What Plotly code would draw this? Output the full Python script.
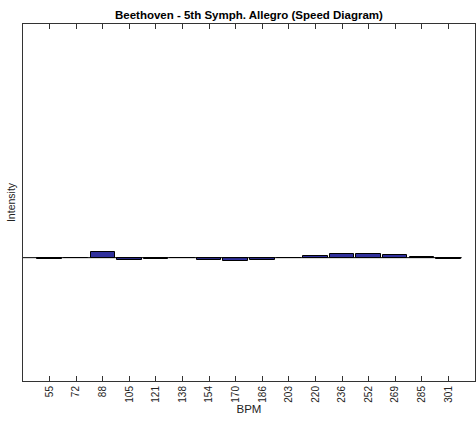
import plotly.graph_objects as go

# Tempo bins (BPM) and the intensity measured in each bin
bpm_labels = ["55", "72", "88", "105", "121", "138", "154", "170",
              "186", "203", "220", "236", "252", "269", "285", "301"]
intensity = [-0.010, 0.0, 0.053, -0.023, -0.013, -0.004, -0.027, -0.033,
             -0.023, 0.0, 0.015, 0.033, 0.035, 0.023, 0.005, -0.010]

positions = list(range(1, len(bpm_labels) + 1))

fig = go.Figure()
fig.add_trace(go.Bar(
    x=positions,
    y=intensity,
    width=0.92,
    marker=dict(color="#30309c", line=dict(color="black", width=1)),
    showlegend=False,
))

# baseline through zero
fig.add_shape(type="line", xref="x", yref="y", x0=0, x1=16.5, y0=0, y1=0,
              line=dict(color="black", width=1))

axis_font = dict(family="Liberation Sans, Arial, sans-serif", size=10, color="#222")

fig.update_layout(
    width=476, height=421,
    margin=dict(l=23, r=1, t=24, b=40),
    paper_bgcolor="white", plot_bgcolor="white",
    title=dict(text="<b>Beethoven - 5th Symph. Allegro (Speed Diagram)</b>",
               x=0.523, xanchor="center", y=0.974, yanchor="top",
               font=dict(family="Liberation Sans, Arial, sans-serif", size=11.5, color="black")),
    font=axis_font,
    bargap=0,
)

fig.update_xaxes(
    range=[0, 17],
    tickvals=positions, ticktext=bpm_labels, tickangle=-90,
    ticks="inside", ticklen=5, tickcolor="#333", tickwidth=1,
    showline=True, linecolor="#333", linewidth=1, mirror="allticks",
    showgrid=False, zeroline=False,
    title=dict(text="BPM", font=dict(size=11.5, family="Liberation Sans, Arial, sans-serif"), standoff=0),
    tickfont=axis_font,
)
fig.update_yaxes(
    range=[-1.235, 2.34],
    showticklabels=False, ticks="",
    showline=True, linecolor="#333", linewidth=1, mirror=True,
    showgrid=False, zeroline=False,
    title=dict(text="Intensity", font=dict(size=10.5, family="Liberation Sans, Arial, sans-serif"), standoff=4),
)

fig.write_html("out.html")
